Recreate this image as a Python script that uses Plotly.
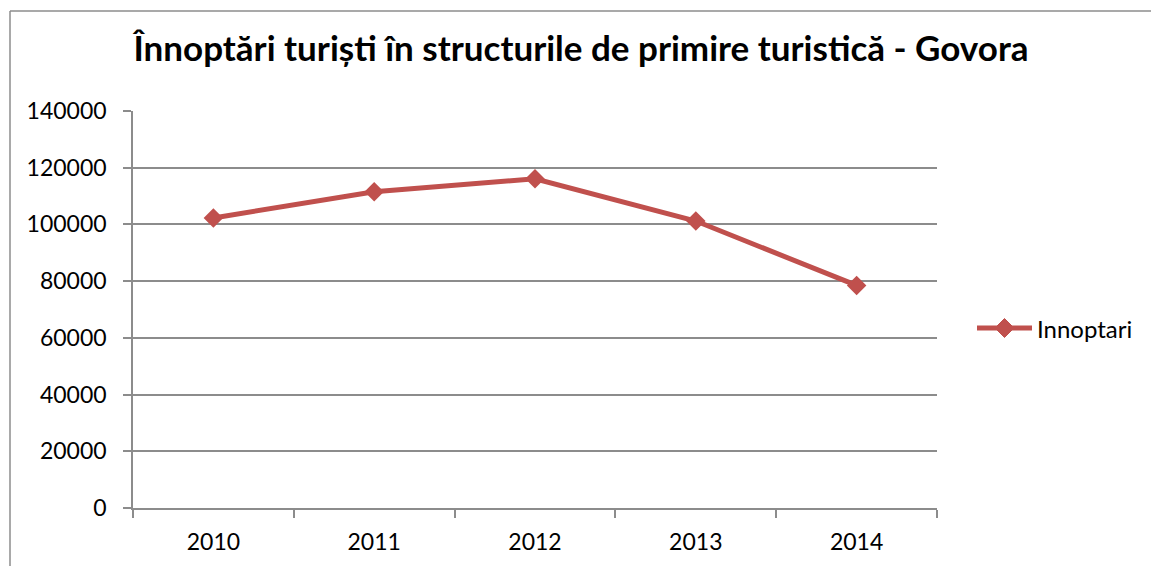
import plotly.graph_objects as go

# Overnight stays of tourists in accommodation units, Govora
years = ["2010", "2011", "2012", "2013", "2014"]
innoptari = [102300, 111500, 116100, 101200, 78500]
y_ticks = [0, 20000, 40000, 60000, 80000, 100000, 120000, 140000]
series_name = "Innoptari"

RED = "#c0504d"
GRID = "#8c8c8c"
FONT = "Lato, Carlito, Calibri, sans-serif"

fig = go.Figure()
fig.add_trace(go.Scatter(
    x=years, y=innoptari, name=series_name, mode="lines+markers",
    line=dict(color=RED, width=5),
    marker=dict(symbol="diamond", size=15, color=RED),
    showlegend=False,
))

W, H = 1151, 566
L, R, T, B = 133, 214, 111, 58
pw, ph = W - L - R, H - T - B


def px_x(x):
    return (x - L) / pw


def px_y(y):
    return (H - B - y) / ph


fig.update_layout(
    width=W, height=H,
    margin=dict(l=L, r=R, t=T, b=B),
    paper_bgcolor="white", plot_bgcolor="white",
    font=dict(family=FONT, size=23, color="#000000"),
    title=dict(
        text="<b>Înnoptări turiști în structurile de primire turistică - Govora</b>",
        x=581 / W, xanchor="center", y=1 - 49 / H, yanchor="middle",
        font=dict(family=FONT, size=35, color="#000000"),
    ),
    xaxis=dict(
        type="category", range=[-0.5, 4.5],
        showline=True, linecolor=GRID, linewidth=1.5,
        ticks="outside", tickson="boundaries", ticklen=8, tickcolor=GRID, tickwidth=1.5,
        showgrid=False, ticklabelstandoff=13, fixedrange=True,
    ),
    yaxis=dict(
        range=[0, 140000], tickvals=y_ticks, tickformat="d",
        showline=True, linecolor=GRID, linewidth=1.5,
        ticks="outside", ticklen=8, tickcolor=GRID, tickwidth=1.5,
        showgrid=True, gridcolor=GRID, gridwidth=1.5,
        zeroline=False, ticklabelstandoff=12, fixedrange=True,
    ),
)

# legend key: line with a diamond in the middle, then the series name
ly = 328
fig.add_shape(type="line", xref="paper", yref="paper",
              x0=px_x(977), x1=px_x(1032), y0=px_y(ly), y1=px_y(ly),
              line=dict(color=RED, width=5))
cx, r = 1004.5, 9.5
diamond = "M {},{} L {},{} L {},{} L {},{} Z".format(
    px_x(cx), px_y(ly - r), px_x(cx + r), px_y(ly),
    px_x(cx), px_y(ly + r), px_x(cx - r), px_y(ly))
fig.add_shape(type="path", xref="paper", yref="paper", path=diamond,
              fillcolor=RED, line=dict(color=RED, width=1))
fig.add_annotation(xref="paper", yref="paper", x=px_x(1035), y=px_y(ly),
                   xanchor="left", yanchor="middle", showarrow=False,
                   text=series_name, font=dict(family=FONT, size=24, color="#000000"))

# chart-area frame (left and top edges)
fig.add_shape(type="line", xref="paper", yref="paper",
              x0=px_x(10), x1=px_x(10), y0=px_y(11), y1=px_y(570),
              line=dict(color=GRID, width=1.5))
fig.add_shape(type="line", xref="paper", yref="paper",
              x0=px_x(10), x1=px_x(1155), y0=px_y(11), y1=px_y(11),
              line=dict(color=GRID, width=1.5))

fig.write_html("out.html")
